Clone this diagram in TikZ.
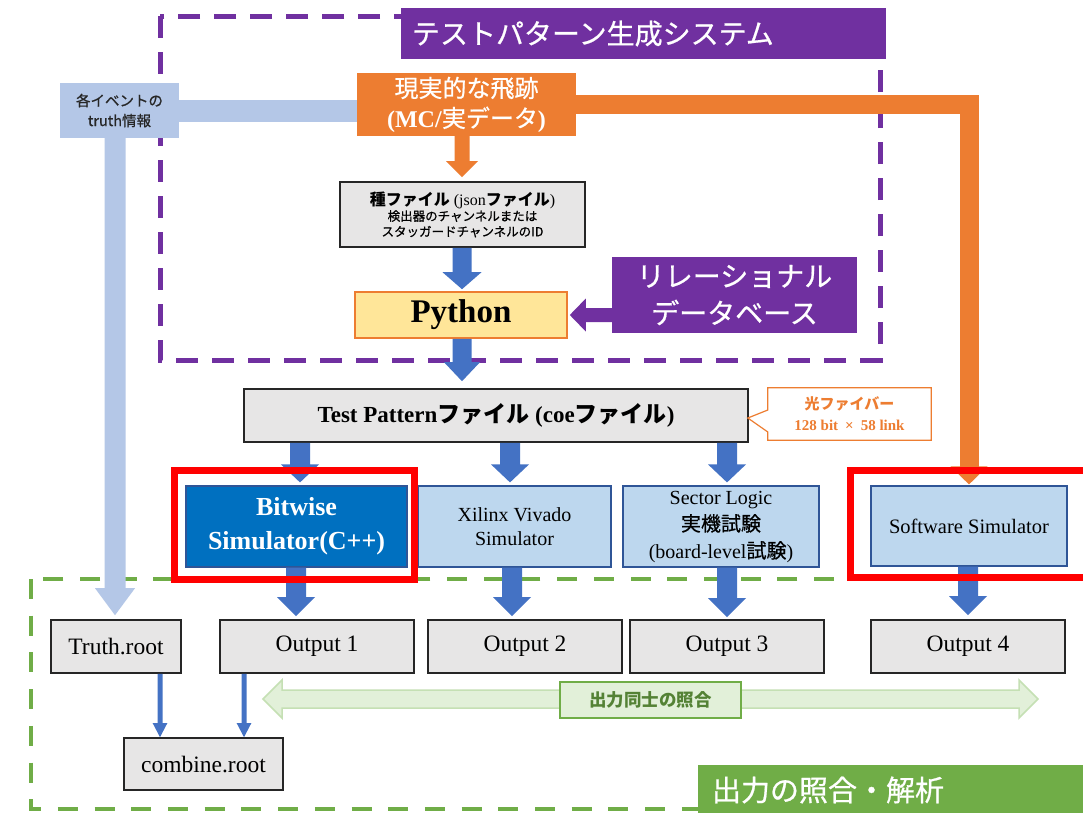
\documentclass[tikz,border=0pt]{standalone}
\usepackage{fontspec}
\setmainfont{Liberation Serif}
\newfontfamily\jp{Noto Sans CJK JP}
\newfontfamily\jpm{Noto Sans CJK JP}[FakeBold=0.7]
\usetikzlibrary{calc}
\definecolor{cOrange}{HTML}{ED7D31}
\definecolor{cPurple}{HTML}{7030A0}
\definecolor{cBlue}{HTML}{4472C4}
\definecolor{cLB}{HTML}{B4C7E7}
\definecolor{cBoxBlue}{HTML}{BDD7EE}
\definecolor{cEdgeBlue}{HTML}{2F5597}
\definecolor{cDeep}{HTML}{0070C0}
\definecolor{cGrey}{HTML}{E7E6E6}
\definecolor{cGreen}{HTML}{70AD47}
\definecolor{cLGreen}{HTML}{E2F0D9}
\definecolor{cMGreen}{HTML}{C5E0B4}
\definecolor{cDGreen}{HTML}{548235}
\definecolor{cYellow}{HTML}{FFE699}
\definecolor{cRed}{HTML}{FF0000}
\newcommand\J[1]{{\jp #1}}
\newcommand\JM[1]{{\jpm #1}}
\newcommand\fs[2]{\fontsize{#1}{#2}\selectfont}
% fat downward arrow: style, start, tip, shaft half width, head half width, head length
\newcommand\fatdown[6]{\fill[#1] let \p1=(#2), \p2=(#3) in
  (\x1-#4,\y1) -- (\x1+#4,\y1) -- (\x1+#4,\y2+#6) -- (\x1+#5,\y2+#6) -- (\x1,\y2)
  -- (\x1-#5,\y2+#6) -- (\x1-#4,\y2+#6) -- cycle;}
\tikzset{
  greybox/.style={draw=black!85, line width=1.6pt, fill=cGrey, minimum height=53pt, inner sep=0pt, align=center, font=\fs{23.5}{28}},
  bluebox/.style={draw=cEdgeBlue, line width=1.2pt, fill=cBoxBlue, minimum height=81pt, inner sep=0pt, align=center},
  redframe/.style={draw=cRed, line width=7pt},
}
\begin{document}
\begin{tikzpicture}[x=1pt,y=-1pt]
\useasboundingbox (0,0) rectangle (1083,812);
\clip (0,0) rectangle (1083,812);
\fill[white] (0,0) rectangle (1083,812);

% dashed frames
\draw[cGreen, line width=4.5pt, dash pattern=on 20pt off 16.7pt] (31,579) rectangle (1120,809);
\draw[cPurple, line width=5pt, dash pattern=on 22pt off 14pt] (160,16) rectangle (880,360);

% titles
\node[fill=cPurple, text=white, minimum height=51pt, text width=463pt, inner xsep=11pt, inner ysep=0pt, align=left, font=\jpm\fs{28}{32}] (t1) at (643.5,33.5) {テストパターン生成システム};
\node[fill=cGreen, text=white, minimum height=50pt, text width=374pt, inner xsep=14pt, inner ysep=0pt, align=left, font=\jpm\fs{29}{32}] (t2) at (899,790) {出力の照合・解析};

% upper nodes
\node[fill=cOrange, text=white, minimum width=219pt, minimum height=63pt, inner sep=0pt, align=center, font=\fs{24}{30}] (oc) at (466.5,104.5) {\JM{現実的な飛跡}\\\textbf{(MC/}\JM{実データ}\textbf{)}};
\node[fill=cLB, text=black!85, minimum width=119pt, minimum height=55pt, inner sep=0pt, align=center, font=\jpm\fs{14.5}{20}] (lb) at (119.5,110.5) {各イベントの\\truth情報};
\node[greybox, minimum width=245pt, minimum height=65pt, font=\fs{12.5}{15.5}] (seed) at (462.5,214.5) {{\fs{16}{19}\J{\bfseries 種ファイル} (json\J{\bfseries ファイル})}\\\JM{検出器のチャンネルまたは}\\\JM{スタッガードチャンネルのID}};
\node[fill=cYellow, draw=cOrange, line width=1.6pt, minimum width=212pt, minimum height=46pt, inner sep=0pt, font=\bfseries\fs{33}{36}] (py) at (461,315) {Python};
\node[fill=cPurple, text=white, minimum width=245pt, minimum height=76pt, inner sep=0pt, align=center, font=\jpm\fs{28}{37}] (db) at (734.5,295) {リレーショナル\\データベース};
\node[greybox, minimum width=504pt, font=\bfseries\fs{23}{28}] (tp) at (496,415.5) {Test Pattern\J{ファイル} (coe\J{ファイル})};
\node[minimum width=163pt, minimum height=52pt, inner sep=0pt, align=center, text=cOrange, font=\bfseries\fs{15}{21}] (co) at (849.5,414) {\J{光ファイバー}\\128 bit\hspace{7pt}×\hspace{7pt}58 link};
\draw[cOrange, line width=1.2pt, line join=miter] (co.north west) -- (co.north east) -- (co.south east) -- (co.south west) -- ($(co.west)+(0,18)$) -- ($(tp.east)+(-1,2.5)$) -- ($(co.west)+(0,-4)$) -- cycle;

% simulators
\node[bluebox, fill=cDeep, text=white, minimum width=221pt, font=\bfseries\fs{26}{34}] (bit) at (296.5,526.5) {Bitwise\\Simulator(C++)};
\node[bluebox, minimum width=193pt, font=\fs{20}{24}] (xil) at (514.5,526.5) {Xilinx Vivado\\Simulator};
\node[bluebox, minimum width=196pt, font=\fs{20}{27}] (sec) at (721,526.5) {Sector Logic\\\JM{実機試験}\\(board-level\JM{試験})};
\node[bluebox, minimum width=196pt, minimum height=80pt, font=\fs{20.5}{24}] (ss) at (969,526) {Software Simulator};

% outputs
\node[greybox, minimum width=130pt] (truth) at (116,646.5) {Truth.root};
\node[greybox, minimum width=194pt] (o1) at (317,646.5) {Output 1};
\node[greybox, minimum width=194pt] (o2) at (525,646.5) {Output 2};
\node[greybox, minimum width=194pt] (o3) at (727,646.5) {Output 3};
\node[greybox, minimum width=194pt] (o4) at (968,646.5) {Output 4};
\node[greybox, minimum width=159pt, minimum height=52pt] (comb) at (203.5,764) {combine.root};

% arrow x positions
\coordinate (xp) at (462,0);
\coordinate (xa) at (300,0);
\coordinate (xb) at (510,0);
\coordinate (xc) at (727,0);
\coordinate (xd) at (296,0);
\coordinate (xe) at (512,0);
\coordinate (xf) at (727,0);
\coordinate (xg) at (968,0);
\coordinate (xt) at (115,0);
\coordinate (xq) at (160,0);
\coordinate (xr) at (244,0);

% bands
\draw[cLB, line width=22pt] (lb.east) -- (lb.east -| oc.west);
\fatdown{cLB}{lb.south -| xt}{$(truth.north -| xt)+(0,-4)$}{10.5pt}{20pt}{27pt}
\draw[cOrange, line width=19pt, line join=miter] (oc.east) -- (oc.east -| ss.north) -- ($(ss.north)+(0,-18)$);
\fatdown{cOrange}{$(ss.north)+(0,-19)$}{$(ss.north)+(0,-1)$}{9.5pt}{18.5pt}{18pt}

% arrows
\fatdown{cOrange}{oc.south -| xp}{$(seed.north -| xp)+(0,-4)$}{7.5pt}{16pt}{16pt}
\fatdown{cBlue}{seed.south -| xp}{$(py.north -| xp)+(0,-2)$}{9.5pt}{19.5pt}{17pt}
\fatdown{cBlue}{py.south -| xp}{$(tp.north -| xp)+(0,-7)$}{9.5pt}{18pt}{19pt}
\fill[cPurple] let \p1=(db.west |- py.east), \p2=(py.east) in
  (\x1,\y1-7pt) -- (\x1,\y1+7pt) -- (\x2+18pt,\y1+7pt) -- (\x2+18pt,\y1+16.5pt) -- (\x2+2pt,\y1)
  -- (\x2+18pt,\y1-16.5pt) -- (\x2+18pt,\y1-7pt) -- cycle;
\fatdown{cBlue}{tp.south -| xa}{$(bit.north -| xa)+(0,-3)$}{10pt}{19pt}{18pt}
\fatdown{cBlue}{tp.south -| xb}{$(xil.north -| xb)+(0,-3)$}{10pt}{19pt}{18pt}
\fatdown{cBlue}{tp.south -| xc}{$(sec.north -| xc)+(0,-3)$}{10pt}{19pt}{18pt}
\fatdown{cBlue}{bit.south -| xd}{$(o1.north -| xd)+(0,-3)$}{10pt}{19pt}{19pt}
\fatdown{cBlue}{xil.south -| xe}{$(o2.north -| xe)+(0,-3)$}{10pt}{19pt}{19pt}
\fatdown{cBlue}{sec.south -| xf}{$(o3.north -| xf)+(0,-2)$}{10pt}{19pt}{19pt}
\fatdown{cBlue}{ss.south -| xg}{$(o4.north -| xg)+(0,-4)$}{10pt}{19pt}{19pt}
\fatdown{cBlue}{truth.south -| xq}{comb.north -| xq}{2.5pt}{7.3pt}{14pt}
\fatdown{cBlue}{o1.south -| xr}{comb.north -| xr}{2.5pt}{7.3pt}{14pt}

% comparison arrow and label
\draw[fill=cLGreen, draw=cMGreen, line width=1.5pt, line join=miter] (263,699) -- (282,680) -- (282,690) -- (1019,690) -- (1019,680) -- (1038,699) -- (1019,718) -- (1019,708) -- (282,708) -- (282,718) -- cycle;
\node[fill=cLGreen, draw=cGreen, line width=1.3pt, minimum width=181pt, minimum height=36pt, inner sep=0pt, text=cDGreen, font=\jp\bfseries\fs{17.5}{20}] (lab) at (650.5,700) {出力同士の照合};

% red highlight frames
\draw[redframe] ($(bit.north west)+(-10.5,-14.5)$) rectangle ($(bit.south east)+(6.5,11.5)$);
\draw[redframe] ($(ss.north west)+(-19.5,-14.5)$) rectangle ($(ss.south east)+(40,11)$);
\end{tikzpicture}
\end{document}
